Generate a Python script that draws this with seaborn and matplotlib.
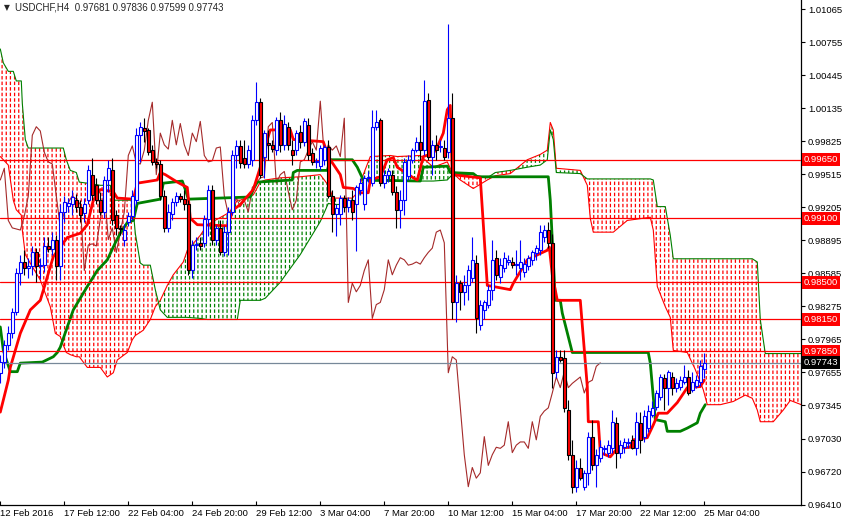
import numpy as np
import pandas as pd
import matplotlib
matplotlib.use("Agg")
import matplotlib.pyplot as plt
import seaborn as sns

# -------------------------------
# Data
# -------------------------------
opens = [
    .9765, .9775, .9791, .9802, .9822, .9859, .9869, .9863, .9865, .9878,
    .9865, .9866, .9884, .9881, .9890, .9865, .9916, .9922, .9923, .9927,
    .9921, .9915, .9927, .9951, .9941, .9927, .9916, .9946, .9955, .9913,
    .9901, .9890, .9907, .9912, .9927, .9988, .9995, .9993, .9974, .9963,
    .9961, .9931, .9901, .9914, .9925, .9931, .9928, .9923, .9861, .9885,
    .9887, .9887, .9909, .9937, .9890, .9901, .9878, .9897, .9916, .9969,
    .9978, .9967, .9961, .9965, 1.0002, 1.0019, .9968, .9981, .9979, .9974,
    1.0002, .9979, .9996, .9974, .9974, .9991, .9982, .9998, .9971, .9963,
    .9959, .9965, .9977, .9931, .9914, .9914, .9929, .9921, .9927, .9923,
    .9937, .9923, .9948, .9943, .9996, 1.0002, .9943, .9951, .9951, .9935,
    .9918, .9927, .9950, .9965, .9974, .9982, .9974, 1.0021, .9968, .9979,
    .9977, .9976, .9972, 1.0004, .9831, .9849, .9841, .9847, .9854, .9868,
    .9810, .9824, .9829, .9843, .9873, .9855, .9863, .9869, .9869, .9866,
    .9863, .9860, .9865, .9871, .9877, .9880, .9892, .9899, .9887, .9766,
    .9780, .9779, .9730, .9688, .9658, .9676, .9658, .9671, .9705, .9678,
    .9685, .9693, .9690, .9694, .9718, .9690, .9695, .9699, .9702, .9694,
    .9718, .9705, .9713, .9725, .9733, .9742, .9760, .9751, .9761, .9751,
    .9752, .9756, .9761, .9749, .9753, .9756, .97681,
]
highs = [
    .9782, .9796, .9809, .9826, .9863, .9876, .9880, .9873, .9884, .9882,
    .9873, .9892, .9892, .9897, .9894, .9923, .9931, .9929, .9937, .9933,
    .9927, .9929, .9960, .9967, .9948, .9935, .9950, .9965, .9967, .9918,
    .9904, .9905, .9916, .9937, .9995, 1.0000, 1.0004, .9995, .9979, .9967,
    .9965, .9937, .9923, .9929, .9935, .9934, .9937, .9927, .9890, .9892,
    .9892, .9913, .9941, .9941, .9904, .9908, .9903, .9921, .9974, .9984,
    .9984, .9984, .9979, 1.0007, 1.0038, 1.0023, .9993, .9993, .9984, 1.0005,
    1.0010, 1.0007, 1.0000, .9984, .9993, .9998, 1.0004, 1.0004, .9976, .9967,
    .9979, .9979, .9984, .9937, .9923, .9932, .9932, .9930, .9937, .9941,
    .9948, .9951, .9954, 1.0012, 1.0012, 1.0004, .9955, .9957, .9955, .9940,
    .9937, .9967, .9969, .9976, .9986, .9998, 1.0040, 1.0028, .9984, .9988,
    .9984, .9984, 1.0092, 1.0028, .9857, .9852, .9857, .9866, .9892, .9876,
    .9833, .9833, .9847, .9890, .9880, .9873, .9878, .9876, .9874, .9880,
    .9890, .9873, .9876, .9880, .9885, .9904, .9904, .9907, .9895, .9786,
    .9786, .9786, .9739, .9702, .9683, .9685, .9674, .9709, .9721, .9693,
    .9702, .9697, .9702, .9730, .9723, .9702, .9704, .9704, .9707, .9728,
    .9728, .9730, .9735, .9738, .9749, .9764, .9764, .9768, .9766, .9760,
    .9762, .9772, .9768, .9766, .9763, .9777, .97836,
]
lows = [
    .9755, .9769, .9786, .9798, .9819, .9847, .9857, .9854, .9857, .9850,
    .9853, .9860, .9878, .9876, .9852, .9852, .9907, .9916, .9913, .9916,
    .9907, .9907, .9923, .9927, .9923, .9913, .9910, .9935, .9904, .9894,
    .9894, .9884, .9903, .9908, .9923, .9963, .9982, .9969, .9960, .9957,
    .9927, .9897, .9897, .9908, .9922, .9925, .9918, .9857, .9854, .9880,
    .9880, .9883, .9893, .9885, .9885, .9876, .9875, .9876, .9913, .9957,
    .9957, .9957, .9957, .9959, .9998, .9948, .9948, .9965, .9972, .9969,
    .9972, .9974, .9974, .9960, .9969, .9976, .9978, .9965, .9960, .9957,
    .9955, .9960, .9929, .9897, .9893, .9904, .9916, .9916, .9908, .9879,
    .9932, .9918, .9944, .9940, .9993, .9940, .9938, .9944, .9932, .9901,
    .9901, .9913, .9946, .9962, .9972, .9965, .9969, .9965, .9951, .9965,
    .9972, .9965, .9967, .9815, .9813, .9824, .9829, .9833, .9850, .9802,
    .9805, .9815, .9826, .9833, .9852, .9849, .9860, .9866, .9863, .9857,
    .9852, .9855, .9861, .9866, .9871, .9876, .9888, .9882, .9751, .9760,
    .9775, .9728, .9683, .9652, .9653, .9664, .9655, .9660, .9674, .9658,
    .9681, .9688, .9686, .9690, .9676, .9685, .9690, .9694, .9693, .9688,
    .9690, .9700, .9709, .9723, .9730, .9739, .9730, .9735, .9744, .9747,
    .9749, .9754, .9744, .9747, .9751, .9753, .97599,
]
closes = [
    .9775, .9791, .9802, .9822, .9859, .9869, .9863, .9865, .9878, .9865,
    .9866, .9884, .9881, .9890, .9865, .9916, .9925, .9924, .9930, .9921,
    .9913, .9923, .9955, .9932, .9927, .9916, .9946, .9957, .9908, .9901,
    .9900, .9899, .9912, .9931, .9988, .9996, .9992, .9972, .9963, .9961,
    .9931, .9901, .9916, .9925, .9931, .9928, .9923, .9861, .9885, .9886,
    .9884, .9909, .9937, .9890, .9901, .9878, .9897, .9916, .9969, .9978,
    .9962, .9961, .9974, 1.0002, 1.0019, .9951, .9990, .9979, .9975, 1.0002,
    .9979, .9999, .9979, .9969, .9990, .9982, 1.0001, .9969, .9963, .9964,
    .9976, .9977, .9931, .9914, .9920, .9929, .9921, .9927, .9916, .9939,
    .9943, .9948, .9949, .9996, 1.0000, .9943, .9951, .9954, .9935, .9918,
    .9927, .9963, .9965, .9974, .9982, .9974, 1.0020, .9968, .9979, .9974,
    .9978, .9968, 1.0004, .9831, .9849, .9841, .9847, .9861, .9871, .9816,
    .9829, .9831, .9843, .9871, .9857, .9866, .9873, .9871, .9866, .9867,
    .9869, .9867, .9873, .9878, .9882, .9897, .9899, .9887, .9765, .9780,
    .9777, .9732, .9688, .9658, .9676, .9666, .9671, .9705, .9678, .9688,
    .9695, .9694, .9697, .9719, .9690, .9697, .9700, .9700, .9694, .9719,
    .9702, .9724, .9729, .9732, .9746, .9761, .9751, .9766, .9751, .9755,
    .9758, .9761, .9746, .9756, .9758, .9771, .97743,
]

# Tenkan-sen (red) and Kijun-sen (green), as vertices (bar, price)
tenkan_bar = [0, 2, 2.5, 5, 7.5, 10, 11.75, 13.25, 15, 16.75, 20, 21.75, 23.25, 25, 28.25, 29.25,
              33.25, 34.25, 39.25, 40, 41.25, 44.25, 46.75, 47.5, 49.25, 56.75, 58.25, 60, 63.25,
              65, 66.75, 67.5, 72.5, 73.25, 80.75, 81.75, 82.5, 85, 85.75, 88.25, 90, 92, 92.5, 95,
              96.75, 98.25, 99.25, 103.25, 104.25, 105.75, 108.25, 109.25, 110.75, 111.75, 112.5,
              113, 120, 121.75, 127.5, 128.25, 131.75, 135, 136.75, 137.25, 138, 139.25, 145,
              146.75, 147, 149.5, 150, 152.5, 154.25, 157.5, 158.25, 161.75, 163.25, 164.5,
              166.75, 169.25, 171.75, 175, 176]
tenkan_val = [.9728, .9758, .9770, .9802, .9824, .9833, .9855, .9874, .9883, .9892, .9896, .9904,
              .9927, .9937, .9935, .9929, .9928, .9943, .9946, .9953, .9951, .9944, .9939, .9910,
              .9904, .9903, .9918, .9923, .9937, .9958, .9984, .9993, .9993, .9984, .9982, .9971,
              .9965, .9951, .9939, .9938, .9934, .9934, .9946, .9949, .9965, .9967, .9958, .9948,
              .9946, .9968, .9971, .9977, .9990, 1.0012, 1.0016, .9951, .9948, .9847, .9843,
              .9849, .9871, .9877, .9880, .9883, .9857, .9833, .9833, .9752, .9719, .9719, .9690,
              .9686, .9694, .9695, .9702, .9704, .9716, .9727, .9727, .9737, .9751, .9752, .9758]

kijun_bar = [0, 0.75, 2.5, 4.25, 5, 10.5, 13.25, 14.25, 15, 16.75, 18.25, 21.75, 24.25, 26.75,
             28.75, 30, 31.75, 33.25, 34.25, 40, 40.75, 45.5, 46.25, 47, 62.5, 63.25, 64.25, 73,
             73.25, 74.25, 81.75, 82.5, 88, 89.25, 90.75, 105, 105.75, 111.75, 112.5, 118.25,
             119.25, 137, 137.5, 138.75, 140, 140.5, 143, 162, 162.5, 163.75, 166.25, 166.75,
             170, 171.75, 174.25, 175, 176.25]
kijun_val = [.9808, .9786, .9766, .9766, .9774, .9775, .9780, .9784, .9789, .9808, .9824, .9846,
             .9861, .9871, .9887, .9896, .9906, .9908, .9924, .9928, .9943, .9945, .9937, .9928,
             .9930, .9937, .9944, .9946, .9953, .9955, .9955, .9965, .9965, .9958, .9946, .9945,
             .9958, .9959, .9953, .9952, .9949, .9949, .9927, .9833, .9833, .9821, .9784, .9784,
             .9774, .9721, .9719, .9710, .9710, .9713, .9718, .9727, .9735]

# Senkou span A (red edge) and B (green edge), already shifted 26 bars forward
cloud_bar = [0, 0.75, 2, 3.25, 4, 5.25, 5.5, 6.25, 7, 10, 12.5, 13.75, 15, 15.75, 16.5, 17.5, 19,
             19.75, 21.75, 25, 26.75, 27.5, 28.25, 29.25, 31.75, 33, 33.75, 35, 35.75, 37.5,
             38.75, 40, 41.75, 43.25, 45.75, 46.75, 50, 51.75, 57.5, 59.25, 60, 63.25, 65,
             66.25, 70, 75, 80, 82, 83.25, 88, 89.25, 90.75, 92.5, 97.5, 99.25, 105, 108.25,
             111.75, 113, 115, 118.25, 121.75, 123.75, 127.5, 131.75, 135, 136.75, 137.5,
             138.25, 139, 145, 146.75, 147.5, 148.25, 153.25, 156.75, 162.5, 163.25, 164.25,
             166.25, 167.5, 168.25, 171.75, 173.75, 175.75, 176.75, 180, 183.25, 186.25, 188,
             189.25, 190, 191.25, 193.25, 195.75, 197.5, 200.25]
span_a = [.9968, .9965, .9960, .9927, .9918, .9913, .9899, .9876, .9871, .9852,
          .9827, .9802, .9799, .9791, .9784, .9782, .9780, .9780, .9770, .9770,
          .9761, .9763, .9765, .9777, .9784, .9796, .9800, .9803, .9805, .9815,
          .9827, .9833, .9847, .9857, .9869, .9880, .9894, .9904, .9916, .9927,
          .9927, .9932, .9944, .9946, .9948, .9949, .9951, .9941, .9929, .9929,
          .9934, .9951, .9968, .9969, .9968, .9969, .9958, .9963, .9953, .9946,
          .9938, .9946, .9950, .9952, .9965, .9970, .9974, 1.0000, .9993, .9957,
          .9955, .9941, .9910, .9897, .9897, .9908, .9911, .9899, .9846, .9827,
          .9817, .9786, .9784, .9768, .9749, .9735, .9735, .9738, .9744, .9741,
          .9730, .9719, .9719, .9719, .9730, .9739, .9735]
span_b = [1.0069, 1.0056, 1.0048, 1.0048, 1.0039, 1.0039, 1.0018, .9984, .9976, .9976,
          .9976, .9976, .9976, .9976, .9965, .9955, .9953, .9944, .9943, .9941,
          .9941, .9941, .9927, .9927, .9927, .9927, .9896, .9868, .9866, .9866,
          .9843, .9824, .9817, .9817, .9817, .9817, .9816, .9815, .9815, .9815,
          .9833, .9833, .9833, .9835, .9850, .9876, .9907, .9924, .9923, .9923,
          .9927, .9946, .9945, .9945, .9945, .9945, .9945, .9946, .9951, .9951,
          .9951, .9948, .9953, .9955, .9958, .9960, .9965, .9993, .9984, .9953,
          .9952, .9947, .9947, .9947, .9947, .9947, .9947, .9946, .9921, .9921,
          .9894, .9872, .9872, .9872, .9872, .9872, .9872, .9872, .9872, .9872,
          .9869, .9815, .9783, .9783, .9783, .9783, .9783]

levels = [0.99650, 0.99100, 0.98500, 0.98150, 0.97850]
last_price = 0.97743

price_ticks = [1.01065, 1.00755, 1.00445, 1.00135, 0.99825, 0.99515, 0.99205, 0.98895,
               0.98585, 0.98275, 0.97965, 0.97655, 0.97345, 0.97030, 0.96720, 0.96410]
date_ticks = list(range(0, 177, 16))
date_labels = ["12 Feb 2016", "17 Feb 12:00", "22 Feb 04:00", "24 Feb 20:00", "29 Feb 12:00",
               "3 Mar 04:00", "7 Mar 20:00", "10 Mar 12:00", "15 Mar 04:00", "17 Mar 20:00",
               "22 Mar 12:00", "25 Mar 04:00"]

df = pd.DataFrame({"open": opens, "high": highs, "low": lows, "close": closes})
df["bar"] = np.arange(len(df))
df["chikou"] = df["close"].shift(-26)

# -------------------------------
# Figure
# -------------------------------
sns.set_theme(style="white")
plt.rcParams["font.family"] = ["Liberation Sans", "DejaVu Sans"]
plt.rcParams["hatch.linewidth"] = 0.9

fig = plt.figure(figsize=(8.43, 5.2), dpi=100)
ax = fig.add_axes([0, 15 / 520, 801 / 843, 505 / 520])
ax.set_facecolor("white")

# cloud: dashed vertical hatching
cx, sa, sb = np.array(cloud_bar), np.array(span_a), np.array(span_b)
ax.fill_between(cx, sa, sb, where=sb >= sa, interpolate=True, facecolor="none",
                edgecolor="#ff0000", hatch="||||", linewidth=0, antialiased=False, zorder=1)
ax.fill_between(cx, sa, sb, where=sa > sb, interpolate=True, facecolor="none",
                edgecolor="#008000", hatch="||||", linewidth=0, antialiased=False, zorder=1)
gaps = ax.fill_between(cx, sa, sb, facecolor="none", edgecolor="white", hatch="---",
                       linewidth=0, antialiased=False, zorder=1.1)
if hasattr(gaps, "set_hatch_linewidth"):
    gaps.set_hatch_linewidth(1.5)
sns.lineplot(x=cx, y=sa, ax=ax, color="#ff0000", linewidth=0.8, estimator=None, sort=False, zorder=1.5)
sns.lineplot(x=cx, y=sb, ax=ax, color="#008000", linewidth=0.8, estimator=None, sort=False, zorder=1.5)

# chikou span
sns.lineplot(data=df, x="bar", y="chikou", ax=ax, color="#a52a2a", linewidth=0.8, zorder=2)

# tenkan / kijun
sns.lineplot(x=kijun_bar, y=kijun_val, ax=ax, color="#008000", linewidth=2.0,
             estimator=None, sort=False, zorder=2.2)
sns.lineplot(x=tenkan_bar, y=tenkan_val, ax=ax, color="#ff0000", linewidth=2.0,
             estimator=None, sort=False, zorder=2.3)

# horizontal levels
for lv in levels:
    ax.axhline(lv, color="#ff0000", linewidth=0.9, zorder=2.6)
ax.axhline(last_price, color="#778899", linewidth=0.9, zorder=2.6)

# candles
bull = df[df["close"] >= df["open"]]
bear = df[df["close"] < df["open"]]
ax.vlines(bull["bar"], bull["low"], bull["high"], color="#0000ff", linewidth=0.8, zorder=3)
ax.vlines(bear["bar"], bear["low"], bear["high"], color="black", linewidth=0.8, zorder=3)
ax.bar(bull["bar"], bull["close"] - bull["open"], bottom=bull["open"], width=0.62,
       facecolor="white", edgecolor="#0000ff", linewidth=0.8, zorder=4)
ax.bar(bear["bar"], bear["open"] - bear["close"], bottom=bear["close"], width=0.62,
       facecolor="#ff0000", edgecolor="black", linewidth=0.8, zorder=4)

# axes
ax.set_xlim(-0.075, 200.18)
ax.set_ylim(0.96408, 1.0115)
ax.yaxis.tick_right()
ax.set_yticks(price_ticks)
ax.set_yticklabels([f"{v:.5f}" for v in price_ticks])
ax.set_xticks(date_ticks)
ax.set_xticklabels(date_labels, ha="left")
ax.tick_params(axis="y", direction="out", length=3, width=0.8, pad=2, labelsize=6.8,
               colors="black", right=True, left=False)
ax.tick_params(axis="x", direction="in", length=3, width=0.8, pad=3, labelsize=6.8,
               colors="black", bottom=True)
ax.set_xlabel("")
ax.set_ylabel("")
for s in ["left", "top"]:
    ax.spines[s].set_visible(False)
for s in ["right", "bottom"]:
    ax.spines[s].set_color("black")
    ax.spines[s].set_linewidth(0.9)

# price boxes on the axis
ytr = ax.get_yaxis_transform()
for lv in levels:
    ax.text(1.003, lv, f"{lv:.5f}", transform=ytr, color="white", fontsize=6.8, va="center",
            ha="left", clip_on=False, zorder=10,
            bbox=dict(boxstyle="square,pad=0.2", fc="#ff0000", ec="none"))
ax.text(1.003, last_price, f"{last_price:.5f}", transform=ytr, color="white", fontsize=6.8,
        va="center", ha="left", clip_on=False, zorder=10,
        bbox=dict(boxstyle="square,pad=0.2", fc="black", ec="none"))

# header
fig.text(4 / 843, 1 - 8 / 520, "▼", fontsize=5.5, va="center", ha="left", family="DejaVu Sans")
fig.text(15 / 843, 1 - 7 / 520, "USDCHF,H4  0.97681 0.97836 0.97599 0.97743",
         fontsize=7, va="center", ha="left")

fig.savefig("out.png", dpi=100)
